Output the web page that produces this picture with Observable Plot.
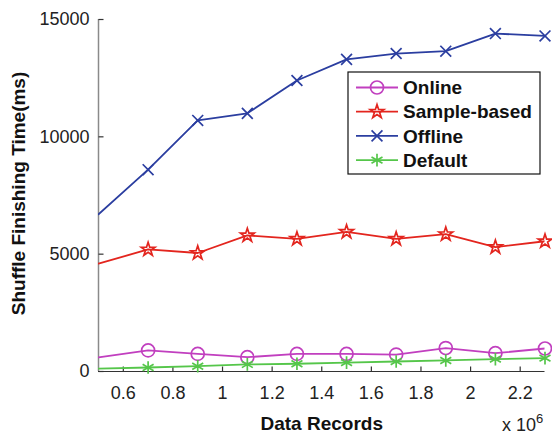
<!DOCTYPE html>
<html>
<head>
<meta charset="utf-8">
<script src="https://cdn.jsdelivr.net/npm/d3@7"></script>
<script src="https://cdn.jsdelivr.net/npm/@observablehq/plot@0.6"></script>
<style>
  html, body { margin: 0; padding: 0; background: #fff; }
  #chart { width: 552px; height: 436px; }
  svg { font-family: "Liberation Sans", Arial, Helvetica, sans-serif; }
</style>
</head>
<body>
<div id="chart"></div>
<script>
// Data records (x 10^6)
const records = [0.5, 0.7, 0.9, 1.1, 1.3, 1.5, 1.7, 1.9, 2.1, 2.3];
// Shuffle finishing time (ms)
const online  = [600, 900, 750, 610, 750, 750, 720, 1000, 780, 980];
const sample  = [4600, 5200, 5050, 5800, 5650, 5950, 5650, 5850, 5300, 5550];
const offline = [6700, 8600, 10700, 11000, 12400, 13300, 13550, 13650, 14400, 14300];
const dflt    = [120, 170, 225, 300, 330, 380, 426, 470, 525, 570];

const seriesNames = ["Online", "Sample-based", "Offline", "Default"];
const xTicks = [0.6, 0.8, 1.0, 1.2, 1.4, 1.6, 1.8, 2.0, 2.2];
const yTicks = [0, 5000, 10000, 15000];

const seriesValues = [online, sample, offline, dflt];
const colors  = ["#c13fbf", "#e3251e", "#2b3ea0", "#55c64a"];
const symbols = [d3.symbolCircle, d3.symbolStar, d3.symbolTimes, d3.symbolAsterisk];
const radii   = [6.5, 4.3, 5, 6];

const series = seriesNames.map((name, k) => ({
  name, color: colors[k], symbol: symbols[k], r: radii[k],
  rows: records.map((x, i) => ({x, y: seriesValues[k][i], i}))
}));

const tickSymbolY = {draw(ctx) { ctx.moveTo(0, 0); ctx.lineTo(5, 0); }};
const tickSymbolX = {draw(ctx) { ctx.moveTo(0, 0); ctx.lineTo(0, -5); }};

const marks = [
  Plot.ruleX([0.5], {stroke: "#8a8a8a", strokeWidth: 1.5}),
  Plot.ruleY([0], {stroke: "#333", strokeWidth: 1.2}),
  Plot.dot(yTicks, {y: d => d, frameAnchor: "left", symbol: tickSymbolY, stroke: "#333", strokeWidth: 1.2}),
  Plot.dot(xTicks, {x: d => d, frameAnchor: "bottom", symbol: tickSymbolX, stroke: "#333", strokeWidth: 1.2}),
  Plot.axisY({ticks: yTicks, tickSize: 0, tickPadding: 9, tickFormat: d => String(d), fontSize: 18, fill: "#222", label: null}),
  Plot.axisX({ticks: xTicks, tickSize: 0, tickPadding: 15, tickFormat: d => String(+d.toFixed(1)), fontSize: 18, fill: "#222", label: null}),
  Plot.text(["Shuffle Finishing Time(ms)"], {frameAnchor: "left", textAnchor: "middle", rotate: -90, dx: -80, dy: -2, fontSize: 19, fontWeight: "bold", fill: "#111"}),
  Plot.text(["Data Records"], {frameAnchor: "bottom", textAnchor: "middle", dy: 58, fontSize: 19, fontWeight: "bold", fill: "#111"}),
  Plot.text(["x 10"], {frameAnchor: "bottom-right", textAnchor: "end", dx: -9, dy: 59, fontSize: 18, fill: "#222"}),
  Plot.text(["6"], {frameAnchor: "bottom-right", textAnchor: "start", dx: -9, dy: 51, fontSize: 13, fill: "#222"})
];

for (const s of series) {
  marks.push(Plot.line(s.rows, {x: "x", y: "y", stroke: s.color, strokeWidth: 1.8, clip: true}));
  marks.push(Plot.dot(s.rows.filter(d => d.i > 0), {x: "x", y: "y", symbol: s.symbol, r: s.r, stroke: s.color, fill: "none", strokeWidth: 1.7}));
}

const svg = Plot.plot({
  width: 552,
  height: 436,
  marginLeft: 98,
  marginRight: 7.5,
  marginTop: 19,
  marginBottom: 65,
  style: {fontFamily: '"Liberation Sans", Arial, Helvetica, sans-serif', background: "#fff"},
  x: {domain: [0.5, 2.3], axis: null},
  y: {domain: [0, 15000], axis: null},
  marks
});

// Legend inside the plot area (top right)
const lg = d3.select(svg).append("g").attr("class", "legend").attr("text-anchor", "start");
lg.append("rect").attr("x", 348).attr("y", 72).attr("width", 192).attr("height", 102)
  .attr("fill", "#fff").attr("stroke", "#111").attr("stroke-width", 1.2);
series.forEach((s, k) => {
  const cy = 87.5 + k * 24.2;
  lg.append("line").attr("x1", 356).attr("x2", 398).attr("y1", cy).attr("y2", cy)
    .attr("stroke", s.color).attr("stroke-width", 1.8);
  lg.append("path").attr("transform", `translate(377,${cy})`)
    .attr("d", d3.symbol(s.symbol, Math.PI * s.r * s.r)())
    .attr("fill", "none").attr("stroke", s.color).attr("stroke-width", 1.7);
  lg.append("text").attr("x", 403).attr("y", cy).attr("dy", "0.35em")
    .attr("text-anchor", "start")
    .attr("font-size", 19).attr("font-weight", "bold").attr("fill", "#111").text(s.name);
});

document.getElementById("chart").appendChild(svg);
</script>
</body>
</html>
